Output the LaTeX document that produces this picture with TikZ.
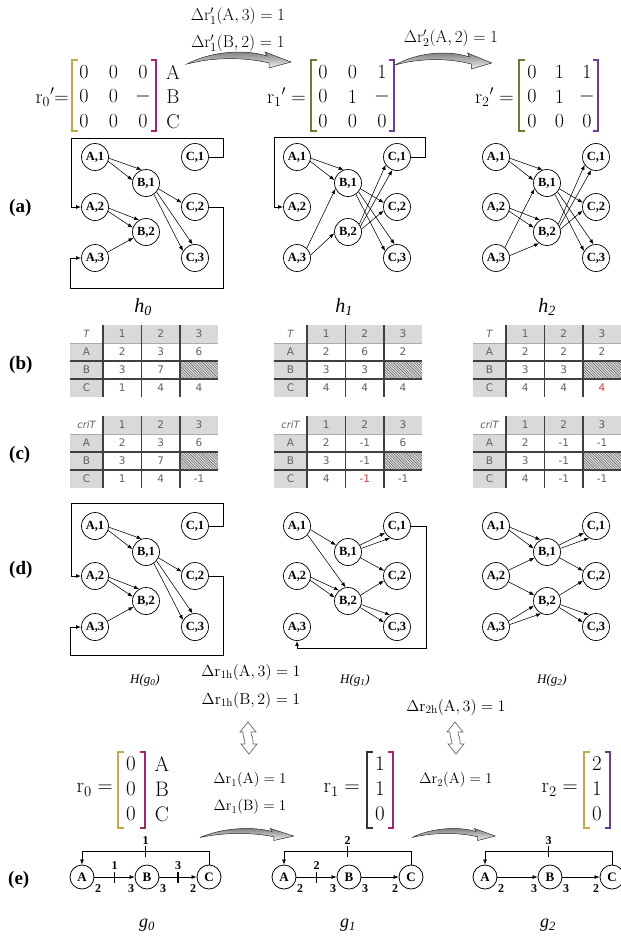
\documentclass[tikz,border=0pt]{standalone}
\usepackage{fix-cm}
\usepackage[no-math]{fontspec}
\newfontfamily\tnr{Liberation Serif}
\newfontfamily\tabfont{DejaVu Sans}
\usetikzlibrary{arrows.meta,calc}

\definecolor{cellgray}{gray}{0.85}
\definecolor{rulegray}{gray}{0.25}
\definecolor{txtgray}{gray}{0.38}
\definecolor{brY}{RGB}{190,170,70}
\definecolor{brO}{RGB}{120,120,50}
\definecolor{brM}{RGB}{160,40,110}
\definecolor{brP}{RGB}{110,60,150}
\definecolor{redval}{RGB}{215,60,60}

\tikzset{
  hnode/.style={circle, draw, line width=0.7pt, minimum size=27pt, inner sep=0pt,
    font=\tnr\bfseries\fontsize{12.5}{13}\selectfont},
  gnode/.style={circle, draw, line width=0.8pt, minimum size=24pt, inner sep=0pt,
    font=\tnr\bfseries\fontsize{13}{14}\selectfont},
  arr/.style={line width=0.55pt, -{Latex[length=5pt,width=3.8pt]}},
  framearr/.style={line width=0.9pt, -{Latex[length=5pt,width=3.8pt]}},
  tcell/.style={inner sep=0pt, font=\tabfont\fontsize{10.5}{11}\selectfont, text=txtgray},
  rule/.style={line width=1.2pt, draw=rulegray},
  thinrule/.style={line width=0.5pt, draw=gray!65},
  panel/.style={font=\tnr\bfseries\fontsize{19}{21}\selectfont, anchor=west, inner sep=0pt},
  mtxt/.style={inner sep=0pt, font=\fontsize{17}{20}\selectfont},
  stxt/.style={inner sep=0pt, font=\fontsize{15}{18}\selectfont},
  htxt/.style={inner sep=0pt, font=\fontsize{16}{19}\selectfont},
  ment/.style={inner sep=0pt, font=\fontsize{20}{22}\selectfont},
  vent/.style={inner sep=0pt, font=\fontsize{21}{23}\selectfont},
  hlbl/.style={inner sep=0pt, font=\tnr\itshape\fontsize{20}{22}\selectfont},
  Hlbl/.style={inner sep=0pt, font=\tnr\itshape\fontsize{13}{15}\selectfont},
  glbl/.style={inner sep=0pt, font=\tnr\itshape\fontsize{18}{20}\selectfont},
  tickmk/.style={fill=black, draw=none, minimum width=1.6pt, minimum height=11pt, inner sep=0pt},
  dlbl/.style={inner sep=1pt, font=\tnr\bfseries\fontsize{12}{13}\selectfont},
  ratelbl/.style={inner sep=0pt, font=\tnr\bfseries\fontsize{12}{13}\selectfont},
  swoosh/.pic={
    \fill[top color=gray!85!black, bottom color=gray!10, draw=black!75, line width=0.5pt]
      (0,10) .. controls (25,-3) and (58,-5) .. (80,2)
      -- (78,-2) -- (104,8) -- (82,14) -- (82,9)
      .. controls (58,3) and (26,3) .. (0,10) -- cycle;
  },
  updown/.pic={
    \draw[line width=0.7pt, draw=black!60, fill=white]
      (0,0) -- (8,10) -- (3,10) .. controls (3,15) and (5,14) .. (5,19)
      -- (5,22) -- (9,22) -- (1,32) -- (-7,22) -- (-3,22)
      .. controls (-3,17) and (-5,16) .. (-5,12) -- (-5,10) -- (-8,10) -- cycle;
  }
}

% matrix brackets: x, top, bottom, colour
\newcommand\matL[4]{\draw[line width=1.4pt, #4] (#1+5.5,#2) -- (#1,#2) -- (#1,#3) -- (#1+5.5,#3);}
\newcommand\matR[4]{\draw[line width=1.4pt, #4] (#1-5.5,#2) -- (#1,#2) -- (#1,#3) -- (#1-5.5,#3);}
% 3x3 entries: name, x0, y0, column step, list
\newcommand\matentries[5]{%
  \foreach \v [count=\i from 0] in {#5} {
    \pgfmathtruncatemacro\cc{mod(\i,3)}
    \pgfmathtruncatemacro\rr{div(\i,3)}
    \node[ment] (#1-\i) at ({#2+\cc*#4},{#3+\rr*24.5}) {\v};
  }}
% column entries: name, x, y0, style, list
\newcommand\vecentries[5]{%
  \foreach \v [count=\i] in {#5}
    \node[#4] (#1-\i) at (#2,{#3+(\i-1)*25}) {\v};}

% the eight actors of an expanded graph
\newcommand\placenodes[1]{%
  \node[hnode] (#1A1) at (95,157) {A,1};
  \node[hnode] (#1A2) at (95,207) {A,2};
  \node[hnode] (#1A3) at (95,258) {A,3};
  \node[hnode] (#1B1) at (146,183) {B,1};
  \node[hnode] (#1B2) at (146,232) {B,2};
  \node[hnode] (#1C1) at (195,157) {C,1};
  \node[hnode] (#1C2) at (195,207) {C,2};
  \node[hnode] (#1C3) at (195,258) {C,3};}

% table frame: name, x, y, corner text
\newcommand\tablegrid[4]{%
  \begin{scope}[shift={(#2,#3)}]
    \fill[cellgray] (33,0) rectangle (148,18);
    \fill[cellgray] (0,18) rectangle (33,72);
    \fill[cellgray] (110,36) rectangle (148,54);
    \begin{scope}
      \clip (110,36) rectangle (148,54);
      \foreach \k in {0,2.6,...,60} \draw[line width=0.4pt, black!65] (92+\k,36) -- ++(18,18);
    \end{scope}
    \draw[thinrule] (0,18) -- (148,18);
    \draw[rule] (0,36) -- (148,36) (0,54) -- (148,54);
    \draw[rule] (33,0) -- (33,72) (71.5,0) -- (71.5,72) (110,0) -- (110,72);
    \node[tcell, font=\tabfont\itshape\fontsize{10}{11}\selectfont] (#1-h) at (16.5,9) {#4};
    \node[tcell] (#1-c1) at (52.25,9) {1};
    \node[tcell] (#1-c2) at (90.75,9) {2};
    \node[tcell] (#1-c3) at (129,9) {3};
    \node[tcell] (#1-rA) at (16.5,27) {A};
    \node[tcell] (#1-rB) at (16.5,45) {B};
    \node[tcell] (#1-rC) at (16.5,63) {C};
  \end{scope}}
\newcommand\rv[1]{\textcolor{redval}{#1}}
% table values: name, x, y, row A, row B, row C
\newcommand\tablevals[6]{%
  \begin{scope}[shift={(#2,#3)}]
    \foreach \u/\v/\w in {#4} {
      \node[tcell] (#1-A1) at (52.25,27) {\u};
      \node[tcell] (#1-A2) at (90.75,27) {\v};
      \node[tcell] (#1-A3) at (129,27) {\w};}
    \foreach \u/\v in {#5} {
      \node[tcell] (#1-B1) at (52.25,45) {\u};
      \node[tcell] (#1-B2) at (90.75,45) {\v};}
    \foreach \u/\v/\w in {#6} {
      \node[tcell] (#1-C1) at (52.25,63) {\u};
      \node[tcell] (#1-C2) at (90.75,63) {\v};
      \node[tcell] (#1-C3) at (129,63) {\w};}
  \end{scope}}

\begin{document}
\begin{tikzpicture}[x=1pt,y=-1pt]
\useasboundingbox (0,0) rectangle (621,938);
\fill[white] (0,0) rectangle (621,938);

% ---------- retiming matrices ----------
\node[mtxt] (dA3) at (238,16) {$\Delta\mathrm{r}'_1(\mathrm{A},3) = 1$};
\node[mtxt] (dB2) at (238,43) {$\Delta\mathrm{r}'_1(\mathrm{B},2) = 1$};
\node[mtxt] (dA2) at (451,38) {$\Delta\mathrm{r}'_2(\mathrm{A},2) = 1$};
\pic at (187,54) {swoosh};
\pic[xscale=0.93] at (395,55) {swoosh};

\node[ment, anchor=east] (r0p) at (69,97) {$\mathrm{r}_0{}'{=}$};
\matL{72}{60}{131}{brY}
\matentries{m0}{84}{72}{29.5}{0,0,0,0,0,$-$,0,0,0}
\matR{156}{60}{131}{brM}
\vecentries{m0l}{173}{72}{ment}{A,B,C}

\node[ment, anchor=east] (r1p) at (306,97) {$\mathrm{r}_1{}' =$};
\matL{311}{60}{131}{brO}
\matentries{m1}{323}{72}{29.5}{0,0,1,0,1,$-$,0,0,0}
\matR{394}{60}{131}{brP}

\node[ment, anchor=east] (r2p) at (514,97) {$\mathrm{r}_2{}' =$};
\matL{519}{60}{131}{brO}
\matentries{m2}{532}{72}{27.5}{0,1,1,0,1,$-$,0,0,0}
\matR{598}{60}{131}{brP}

% ---------- (a) expanded graphs ----------
\node[panel] (pa) at (9,208) {(a)};

\placenodes{a}
\draw[arr] (aA1.-5) -- (aB1.108);
\draw[arr] (aA1.-18) -- (aB1.168);
\draw[arr] (aA2.-5) -- (aB2.120);
\draw[arr] (aA2.-18) -- (aB2.162);
\draw[arr] (aA3.25) -- (aB2.205);
\draw[arr] (aB1.-25) -- (aC2.162);
\draw[arr] (aB1.-40) -- (aC3.100);
\draw[arr] (aB1.-55) -- (aC3.150);
\draw[framearr] (aC1.east) -| (223,138) -| (71,207) -- (aA2.west);
\draw[framearr] (aC2.east) -| (223,288) -| (70,258) -- (aA3.west);

\begin{scope}[shift={(202,0)}]
  \placenodes{b}
  \draw[arr] (bA1.-5) -- (bB1.108);
  \draw[arr] (bA1.-18) -- (bB1.168);
  \draw[arr] (bA3.45) -- (bB1.205);
  \draw[arr] (bA3.12) -- (bB2.185);
  \draw[arr] (bB1.-25) -- (bC2.162);
  \draw[arr] (bB1.-40) -- (bC3.100);
  \draw[arr] (bB1.-55) -- (bC3.150);
  \draw[arr] (bB2.35) -- (bC1.215);
  \draw[arr] (bB2.25) -- (bC1.250);
  \draw[arr] (bB2.12) -- (bC2.195);
  \draw[framearr] (bC1.east) -| (223,137) -| (72,207) -- (bA2.west);
\end{scope}

\begin{scope}[shift={(401,0)}]
  \placenodes{c}
  \draw[arr] (cA1.-5) -- (cB1.108);
  \draw[arr] (cA1.-18) -- (cB1.168);
  \draw[arr] (cA2.-5) -- (cB2.120);
  \draw[arr] (cA2.-18) -- (cB2.162);
  \draw[arr] (cA3.50) -- (cB1.205);
  \draw[arr] (cA3.10) -- (cB2.235);
  \draw[arr] (cB1.-25) -- (cC2.162);
  \draw[arr] (cB1.-40) -- (cC3.100);
  \draw[arr] (cB1.-55) -- (cC3.150);
  \draw[arr] (cB2.35) -- (cC1.215);
  \draw[arr] (cB2.25) -- (cC1.250);
  \draw[arr] (cB2.12) -- (cC2.195);
\end{scope}

\node[hlbl] (h0) at (143,307) {h\textsubscript{0}};
\node[hlbl] (h1) at (344,307) {h\textsubscript{1}};
\node[hlbl] (h2) at (547,307) {h\textsubscript{2}};

% ---------- (b) and (c) tables ----------
\node[panel] (pb) at (9,365) {(b)};
\tablegrid{tb0}{70}{325}{T}
\tablevals{tb0}{70}{325}{2/3/6}{3/7}{1/4/4}
\tablegrid{tb1}{274}{325}{T}
\tablevals{tb1}{274}{325}{2/6/2}{3/3}{4/4/4}
\tablegrid{tb2}{473}{325}{T}
\tablevals{tb2}{473}{325}{2/2/2}{3/3}{4/4/\rv{4}}

\node[panel] (pc) at (9,455) {(c)};
\tablegrid{tc0}{70}{416}{criT}
\tablevals{tc0}{70}{416}{2/3/6}{3/7}{1/4/-1}
\tablegrid{tc1}{274}{416}{criT}
\tablevals{tc1}{274}{416}{2/-1/6}{3/-1}{4/\rv{-1}/-1}
\tablegrid{tc2}{473}{416}{criT}
\tablevals{tc2}{473}{416}{2/-1/-1}{3/-1}{4/-1/-1}

% ---------- (d) graphs of the retimed SDF graphs ----------
\node[panel] (pd) at (9,570) {(d)};
\begin{scope}[shift={(0,369)}]
  \placenodes{d}
  \draw[arr] (dA1.-5) -- (dB1.108);
  \draw[arr] (dA1.-18) -- (dB1.168);
  \draw[arr] (dA2.-5) -- (dB2.120);
  \draw[arr] (dA2.-18) -- (dB2.162);
  \draw[arr] (dA3.25) -- (dB2.205);
  \draw[arr] (dB1.-25) -- (dC2.162);
  \draw[arr] (dB1.-40) -- (dC3.100);
  \draw[arr] (dB1.-55) -- (dC3.150);
  \draw[framearr] (dC1.east) -| (223,134) -| (71,207) -- (dA2.west);
  \draw[framearr] (dC2.east) -| (223,286) -| (70,258) -- (dA3.west);
\end{scope}

\begin{scope}[shift={(202,369)}]
  \placenodes{e}
  \draw[arr] (eA1.-15) -- (eB1.150);
  \draw[arr] (eA1.-40) -- (eB2.100);
  \draw[arr] (eA2.-5) -- (eB2.130);
  \draw[arr] (eA2.-18) -- (eB2.165);
  \draw[arr] (eB1.30) -- (eC1.210);
  \draw[arr] (eB1.15) -- (eC1.240);
  \draw[arr] (eB1.-25) -- (eC2.158);
  \draw[arr] (eB2.25) -- (eC2.200);
  \draw[arr] (eB2.-15) -- (eC3.120);
  \draw[arr] (eB2.-28) -- (eC3.160);
  \draw[framearr] (eC1.east) -| (224,279) -| (eA3.south);
\end{scope}

\begin{scope}[shift={(401,369)}]
  \placenodes{f}
  \draw[arr] (fA1.-5) -- (fB1.118);
  \draw[arr] (fA1.-18) -- (fB1.165);
  \draw[arr] (fA2.25) -- (fB1.205);
  \draw[arr] (fA2.-25) -- (fB2.155);
  \draw[arr] (fA3.25) -- (fB2.200);
  \draw[arr] (fA3.10) -- (fB2.245);
  \draw[arr] (fB1.30) -- (fC1.210);
  \draw[arr] (fB1.15) -- (fC1.240);
  \draw[arr] (fB1.-25) -- (fC2.158);
  \draw[arr] (fB2.25) -- (fC2.200);
  \draw[arr] (fB2.-15) -- (fC3.120);
  \draw[arr] (fB2.-28) -- (fC3.160);
\end{scope}

\node[Hlbl] (H0) at (145,680) {H(g\textsubscript{0})};
\node[Hlbl] (H1) at (355,680) {H(g\textsubscript{1})};
\node[Hlbl] (H2) at (552,680) {H(g\textsubscript{2})};

\node[htxt] (dh1) at (251,672) {$\Delta\mathrm{r}_{\mathrm{1h}}(\mathrm{A},3) = 1$};
\node[htxt] (dh2) at (251,700) {$\Delta\mathrm{r}_{\mathrm{1h}}(\mathrm{B},2) = 1$};
\node[htxt] (dh3) at (456,707) {$\Delta\mathrm{r}_{\mathrm{2h}}(\mathrm{A},3) = 1$};
\pic at (248,722) {updown};
\pic at (455,722) {updown};

% ---------- retiming vectors ----------
\node[vent, anchor=east] (r0) at (113,790) {$\mathrm{r}_0 =$};
\matL{118}{752}{828}{brY}
\vecentries{v0}{131}{764}{vent}{0,0,0}
\matR{145}{752}{828}{brM}
\vecentries{v0l}{162}{764}{vent}{A,B,C}

\node[stxt] (dv1) at (250,780) {$\Delta\mathrm{r}_1(\mathrm{A}) = 1$};
\node[stxt] (dv2) at (250,807) {$\Delta\mathrm{r}_1(\mathrm{B}) = 1$};

\node[vent, anchor=east] (r1) at (360,790) {$\mathrm{r}_1 =$};
\matL{367}{752}{828}{black!80}
\vecentries{v1}{380}{764}{vent}{1,1,0}
\matR{393}{752}{828}{brM}

\node[stxt] (dv3) at (456,780) {$\Delta\mathrm{r}_2(\mathrm{A}) = 1$};

\node[vent, anchor=east] (r2) at (578,790) {$\mathrm{r}_2 =$};
\matL{584}{752}{828}{brY}
\vecentries{v2}{597}{764}{vent}{2,1,0}
\matR{610}{752}{828}{brP}

\pic[xscale=0.9, yscale=0.75] at (200,830) {swoosh};
\pic[xscale=0.8, yscale=0.75] at (412,830) {swoosh};

% ---------- (e) SDF graphs ----------
\node[panel] (pe) at (8,880) {(e)};

\node[gnode] (g0A) at (82,877) {A};
\node[gnode] (g0B) at (147,877) {B};
\node[gnode] (g0C) at (209,877) {C};
\draw[arr] (g0A) -- node[tickmk, label={[dlbl]above:1}] (g0t2) {} (g0B);
\draw[arr] (g0B) -- node[tickmk, label={[dlbl]above:3}] (g0t3) {} (g0C);
\draw[arr] (g0C.north) -- ++(0,-13) -| node[pos=0.25, tickmk, label={[dlbl]above:1}] (g0t1) {} (g0A.north);
\node[ratelbl] (g0r1) at ($(g0A)+(16,12)$) {2};
\node[ratelbl] (g0r2) at ($(g0B)+(-16,12)$) {3};
\node[ratelbl] (g0r3) at ($(g0B)+(16,12)$) {3};
\node[ratelbl] (g0r4) at ($(g0C)+(-16,12)$) {2};

\node[gnode] (g1A) at (284,877) {A};
\node[gnode] (g1B) at (349,877) {B};
\node[gnode] (g1C) at (411,877) {C};
\draw[arr] (g1A) -- node[tickmk, label={[dlbl]above:2}] (g1t2) {} (g1B);
\draw[arr] (g1B) -- (g1C);
\draw[arr] (g1C.north) -- ++(0,-13) -| node[pos=0.25, tickmk, label={[dlbl]above:2}] (g1t1) {} (g1A.north);
\node[ratelbl] (g1r1) at ($(g1A)+(16,12)$) {2};
\node[ratelbl] (g1r2) at ($(g1B)+(-16,12)$) {3};
\node[ratelbl] (g1r3) at ($(g1B)+(16,12)$) {3};
\node[ratelbl] (g1r4) at ($(g1C)+(-16,12)$) {2};

\node[gnode] (g2A) at (485,877) {A};
\node[gnode] (g2B) at (550,877) {B};
\node[gnode] (g2C) at (612,877) {C};
\draw[arr] (g2A) -- (g2B);
\draw[arr] (g2B) -- (g2C);
\draw[arr] (g2C.north) -- ++(0,-13) -| node[pos=0.25, tickmk, label={[dlbl]above:3}] (g2t1) {} (g2A.north);
\node[ratelbl] (g2r1) at ($(g2A)+(16,12)$) {2};
\node[ratelbl] (g2r2) at ($(g2B)+(-16,12)$) {3};
\node[ratelbl] (g2r3) at ($(g2B)+(16,12)$) {3};
\node[ratelbl] (g2r4) at ($(g2C)+(-16,12)$) {2};

\node[glbl] (G0) at (147,925) {g\textsubscript{0}};
\node[glbl] (G1) at (348,925) {g\textsubscript{1}};
\node[glbl] (G2) at (548,925) {g\textsubscript{2}};
\end{tikzpicture}
\end{document}
